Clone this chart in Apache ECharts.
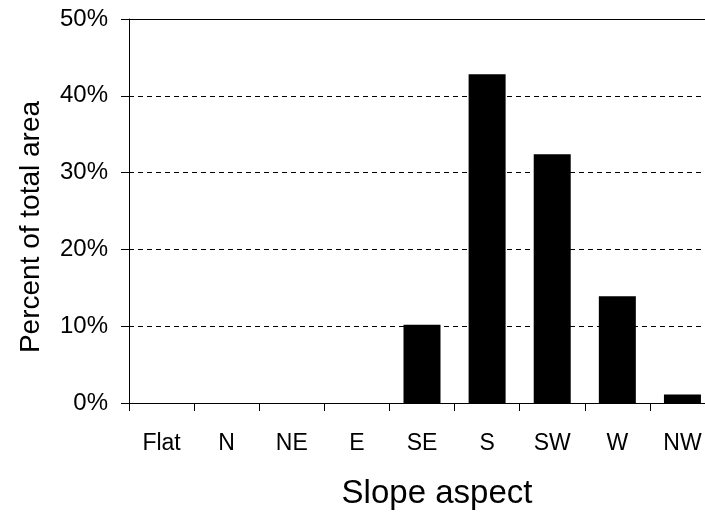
<!DOCTYPE html>
<html><head><meta charset="utf-8">
<script src="https://cdn.jsdelivr.net/npm/echarts@6/dist/echarts.min.js"></script>
<style>html,body{margin:0;padding:0;background:#fff}#c{width:705px;height:514px}</style>
</head><body><div id="c"></div>
<script>
var categories = ['Flat','N','NE','E','SE','S','SW','W','NW'];
var percentValues = [0, 0, 0, 0, 10.2, 42.8, 32.4, 13.9, 1.1];
var yTicks = [0, 10, 20, 30, 40, 50];

var font = 'Liberation Sans';
var chart = echarts.init(document.getElementById('c'), null, {renderer:'canvas'});
chart.setOption({
  animation: false,
  backgroundColor: '#fff',
  grid: {left: 129, top: 19, right: -10, bottom: 111, containLabel: false, outerBoundsMode: 'none'},
  xAxis: [{
    type: 'category', data: categories, position: 'bottom',
    axisLine: {show: true, lineStyle: {color: '#000', width: 1}},
    axisTick: {show: true, length: 8, lineStyle: {color: '#000'}},
    axisLabel: {color: '#000', fontFamily: font, fontSize: 23, margin: 29},
    name: 'Slope aspect', nameLocation: 'middle', nameGap: 74,
    nameTextStyle: {color: '#000', fontFamily: font, fontSize: 33, padding: [0,0,0,30]}
  },{
    type: 'category', data: categories, position: 'top',
    axisLine: {show: true, lineStyle: {color: '#000', width: 1}},
    axisTick: {show: false}, axisLabel: {show: false}
  }],
  yAxis: {
    type: 'value', min: yTicks[0], max: yTicks[yTicks.length-1], interval: 10,
    axisLine: {show: true, lineStyle: {color: '#000', width: 1}},
    axisTick: {show: true, length: 8, lineStyle: {color: '#000'}},
    axisLabel: {color: '#000', fontFamily: font, fontSize: 24, margin: 21, formatter: '{value}%'},
    splitLine: {show: true, lineStyle: {color: '#000', width: 1, type: [5,4]}},
    name: 'Percent of total area', nameLocation: 'middle', nameGap: 84,
    nameTextStyle: {color: '#000', fontFamily: font, fontSize: 28, padding: [0,32,0,0]}
  },
  series: [{
    type: 'bar', data: percentValues, barWidth: 37,
    itemStyle: {color: '#000'}
  }]
});
</script></body></html>
